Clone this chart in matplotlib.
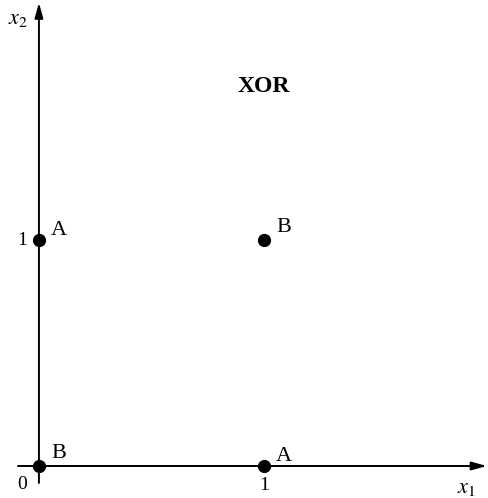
import matplotlib
matplotlib.use("Agg")
import matplotlib.pyplot as plt

plt.rcParams['font.family'] = ['Liberation Serif', 'DejaVu Serif']
plt.rcParams['mathtext.fontset'] = 'stix'

x1_vals = [0, 0, 1, 1]
x2_vals = [0, 1, 0, 1]
classes = ['B', 'A', 'A', 'B']
title_text = 'XOR'
x_ticks = [1]
y_ticks = [1]

fig = plt.figure(figsize=(4.89, 4.98), dpi=100)
ax = fig.add_axes([0, 0, 1, 1])
ax.set_xlim(-0.173, 2.0)
ax.set_ylim(-0.1416, 2.062)
ax.axis('off')

arrow = dict(arrowstyle='-|>,head_length=0.9,head_width=0.25', color='black',
             lw=1.4, shrinkA=0, shrinkB=0)
ax.annotate('', xy=(1.99, 0), xytext=(-0.093, 0), arrowprops=arrow)
ax.annotate('', xy=(0, 2.05), xytext=(0, -0.075), arrowprops=arrow)

ax.plot(x1_vals, x2_vals, 'o', color='black', markersize=8.5, zorder=5)
for x, y, c in zip(x1_vals, x2_vals, classes):
    dy = 0.02 if c == 'A' else 0.035
    ax.text(x + 0.09, y + dy, c, fontsize=16, ha='center', va='baseline')

for t in x_ticks:
    ax.text(t, -0.05, str(t), fontsize=14, ha='center', va='top')
for t in y_ticks:
    ax.text(-0.075, t, str(t), fontsize=14, ha='center', va='center')
ax.text(-0.075, -0.045, '0', fontsize=14, ha='center', va='top')

ax.text(1.9, -0.1, r'$x_1$', fontsize=16, ha='center', va='center')
ax.text(-0.095, 1.975, r'$x_2$', fontsize=16, ha='center', va='center')

ax.text(1.0, 1.68, title_text, fontsize=17, fontweight='bold', ha='center', va='center')

fig.savefig('out.png', dpi=100)
